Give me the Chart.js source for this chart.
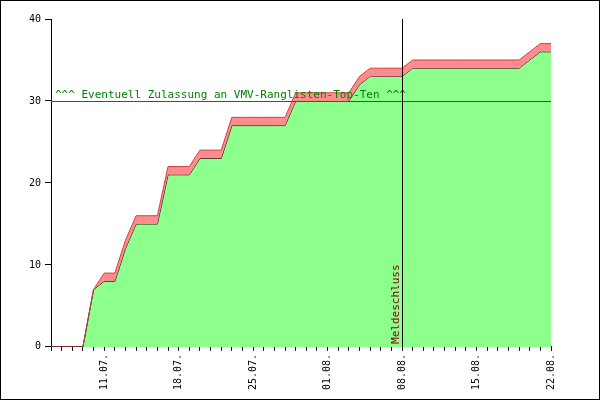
<!DOCTYPE html><html><head><script src="https://cdn.jsdelivr.net/npm/chart.js@4"></script>
<style>body{margin:0;background:#fff}#w{width:598px;height:398px;border:1px solid #000;position:relative}</style></head><body><div id="w"><canvas id="c" width="598" height="398"></canvas></div><script>
const days = Array.from({length:48},(_,i)=>i); // day 0 = 06.07.
const confirmed = [0,0,0,0,7,8,8,12,15,15,15,21,21,21,23,23,23,27,27,27,27,27,27,30,30,30,30,30,30,32,33,33,33,33,34,34,34,34,34,34,34,34,34,34,34,35,36,36];
const total =     [0,0,0,0,7,9,9,13,16,16,16,22,22,22,24,24,24,28,28,28,28,28,28,31,31,31,31,31,31,33,34,34,34,34,35,35,35,35,35,35,35,35,35,35,35,36,37,37];
const threshold = 30, thresholdLabel = '^^^ Eventuell Zulassung an VMV-Ranglisten-Top-Ten ^^^';
const deadlineDay = 33, deadlineLabel = 'Meldeschluss';
const yTicks = [0,10,20,30,40];
function lbl(d){const dt=new Date(2024,6,6+d);return String(dt.getDate()).padStart(2,'0')+'.'+String(dt.getMonth()+1).padStart(2,'0')+'.';}
const extra={id:'extra',afterDatasetsDraw(ch){const {ctx,chartArea:a,scales:{x,y}}=ch;ctx.save();
ctx.strokeStyle='#008000';ctx.lineWidth=1;const ty=Math.round(y.getPixelForValue(threshold))+0.5;ctx.beginPath();ctx.moveTo(a.left,ty);ctx.lineTo(a.right,ty);ctx.stroke();
ctx.fillStyle='#008000';ctx.font='11px "DejaVu Sans Mono"';ctx.textBaseline='bottom';ctx.fillText(thresholdLabel,a.left+4,ty-1);
const dx=Math.round(x.getPixelForValue(deadlineDay))+0.5;ctx.strokeStyle='#000';ctx.beginPath();ctx.moveTo(dx,a.top);ctx.lineTo(dx,a.bottom);ctx.stroke();
ctx.translate(dx-1,a.bottom-3);ctx.rotate(-Math.PI/2);ctx.fillStyle='#800000';ctx.textBaseline='bottom';ctx.fillText(deadlineLabel,0,0);ctx.restore();}};
new Chart(document.getElementById('c'),{type:'line',data:{datasets:[
{data:days.map(d=>({x:d,y:confirmed[d]})),fill:'origin',backgroundColor:'#8cff8c',borderColor:'#000',borderWidth:1,pointRadius:0,tension:0,order:2},
{data:days.map(d=>({x:d,y:total[d]})),fill:'-1',backgroundColor:'#ff8c8c',borderColor:'#d04040',borderWidth:1,pointRadius:0,tension:0,order:1}
]},options:{responsive:false,animation:false,devicePixelRatio:1,layout:{padding:{top:18,right:48,left:0,bottom:6}},
plugins:{legend:{display:false},tooltip:{enabled:false}},
scales:{x:{type:'linear',min:0,max:47,border:{color:'#000'},
afterBuildTicks(s){s.ticks=days.map(v=>({value:v}));},
ticks:{autoSkip:false,maxRotation:90,minRotation:90,color:'#000',font:{family:'DejaVu Sans Mono',size:10},callback:(v)=>((v-5)%7===0?lbl(v):'')},
grid:{display:true,drawOnChartArea:false,color:'#000',tickLength:4}},
y:{min:0,max:40,afterBuildTicks(s){s.ticks=yTicks.map(v=>({value:v}));},border:{color:'#000'},
grid:{drawOnChartArea:false,color:'#000',tickLength:6},ticks:{color:'#000',font:{family:'DejaVu Sans Mono',size:10},padding:4},afterFit(s){s.width=50;}}}},
plugins:[extra]});
</script></body></html>
